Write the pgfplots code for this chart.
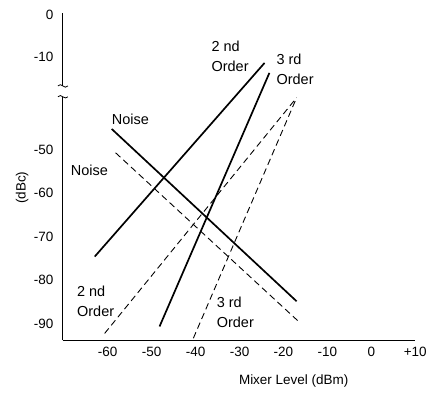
\documentclass[border=0pt]{standalone}
\usepackage{fontspec}
\setmainfont{Liberation Sans}
\usepackage{pgfplots}
\pgfplotsset{compat=1.18}

\begin{document}
\begin{tikzpicture}
\begin{axis}[
  scale only axis, width=353bp, height=328bp,
  xmin=-70.2, xmax=10, ymin=-93.9, ymax=-18.5,
  axis lines=left,
  axis line style={-},
  y axis line style={draw=none},
  major tick length=0pt,
  clip=false,
  xtick={-60,-50,-40,-30,-20,-10,0,10},
  xticklabels={-60,-50,-40,-30,-20,-10,0,+10},
  ytick={-90,-80,-70,-60,-50,-28.6,-19},
  yticklabels={-90,-80,-70,-60,-50,-10,0},
  ticklabel style={font=\fontsize{13.5bp}{16bp}\selectfont},
  yticklabel style={xshift=-6bp},
  xticklabel style={yshift=-3bp},
  xlabel={Mixer Level (dBm)},
  ylabel={(dBc)},
  label style={font=\fontsize{13.5bp}{16bp}\selectfont},
  xlabel style={at={(axis description cs:0.655,-0.125)}, anchor=center},
  ylabel style={at={(axis description cs:-0.116,0.466)}, anchor=center},
]
% solid lines
\addplot[black, line width=1.7pt] coordinates {(-62.95,-74.6) (-24.3,-30.0)};
\addplot[black, line width=1.7pt] coordinates {(-48.2,-90.7) (-23.2,-32.3)};
\addplot[black, line width=1.7pt] coordinates {(-59.1,-45.2) (-17.0,-84.9)};
% dashed lines
\addplot[black, line width=0.9pt, dash pattern=on 6.5bp off 4bp] coordinates {(-58.2,-50.7) (-16.6,-89.5)};
\addplot[black, line width=0.9pt, dash pattern=on 6.5bp off 4bp] coordinates {(-60.7,-92.3) (-17.0,-38.0)};
\addplot[black, line width=0.9pt, dash pattern=on 6.5bp off 4bp] coordinates {(-40.5,-93.4) (-17.0,-38.0)};
% broken y axis
\draw[line width=0.9pt] (axis cs:-70.2,-93.9) -- (axis cs:-70.2,-37.8);
\draw[line width=0.9pt] (axis cs:-70.2,-35.3) -- (axis cs:-70.2,-18.5);
\draw[line width=0.8pt] ([xshift=-5bp]axis cs:-70.2,-37.8) sin ++(2.5bp,1.2bp) cos ++(2.5bp,-1.2bp) sin ++(2.5bp,-1.2bp) cos ++(2.5bp,1.2bp);
\draw[line width=0.8pt] ([xshift=-5bp]axis cs:-70.2,-35.3) sin ++(2.5bp,1.2bp) cos ++(2.5bp,-1.2bp) sin ++(2.5bp,-1.2bp) cos ++(2.5bp,1.2bp);
% annotations
\begin{scope}[every node/.style={font=\fontsize{14.5bp}{20bp}\selectfont, align=left, anchor=west, inner sep=0pt}]
\node at (axis cs:-36.4,-28.4) {2 nd\\Order};
\node at (axis cs:-21.6,-31.4) {3 rd\\Order};
\node at (axis cs:-59.1,-42.9) {Noise};
\node at (axis cs:-68.4,-54.8) {Noise};
\node at (axis cs:-67.0,-84.9) {2 nd\\Order};
\node at (axis cs:-35.2,-87.5) {3 rd\\Order};
\end{scope}
\end{axis}
\path ([xshift=-63bp,yshift=-54bp]current axis.south west) rectangle ([xshift=14bp,yshift=13bp]current axis.north east);
\end{tikzpicture}
\end{document}
